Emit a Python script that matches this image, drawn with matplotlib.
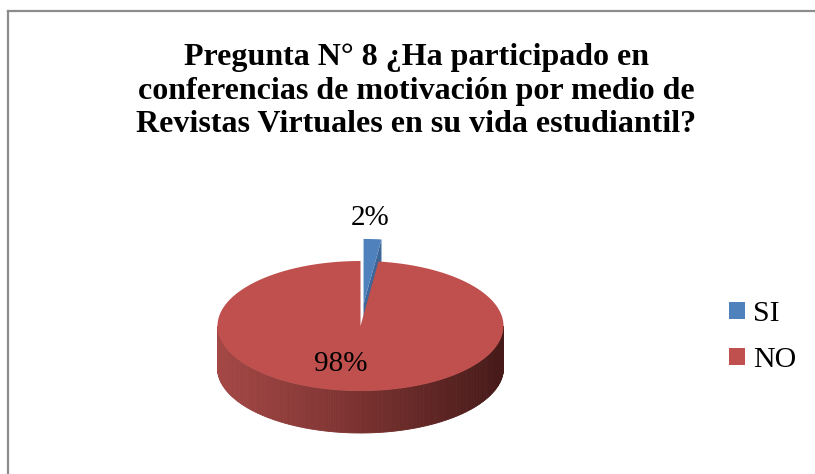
import numpy as np
import matplotlib
matplotlib.use("Agg")
import matplotlib.pyplot as plt
from matplotlib.patches import Polygon, Patch
from matplotlib.lines import Line2D
from matplotlib.colors import LinearSegmentedColormap

# ---- data ----
categories = ["SI", "NO"]
values = [2, 98]
pct_labels = ["2%", "98%"]
title = "Pregunta N° 8 ¿Ha participado en\nconferencias de motivación por medio de\nRevistas Virtuales en su vida estudiantil?"

colors_top = ["#4f81bd", "#c0504d"]
colors_face = ["#3d6699", "#8c3836"]
side_cmap = LinearSegmentedColormap.from_list("side", ["#a44846", "#7a3230", "#461a19"])

plt.rcParams['font.family'] = ['Liberation Serif', 'DejaVu Serif']

W, H = 815, 474
fig = plt.figure(figsize=(W / 100, H / 100), dpi=100)
ax = fig.add_axes([0, 0, 1, 1])
cx, cy, R = 360.5, 326, 143.0   # pixel geometry of the pie
ax.set_xlim(-cx / R, (W - cx) / R)
ax.set_ylim(-(H - cy) / R, cy / R)
ax.axis("off")

s = 65 / R      # tilt (vertical squash)
t = 42 / R      # thickness
explode = [0.34, 0.0]

def pt(theta, dx=0.0, dy=0.0, r=1.0):
    th = np.radians(theta)
    return (dx + r * np.cos(th), dy + s * r * np.sin(th))

total = sum(values)
# slices go clockwise starting at 90 deg
spans = []
start = 90.0
for v in values:
    ext = 360.0 * v / total
    spans.append((start - ext, start))
    start -= ext

offs = []
for (a0, a1), e in zip(spans, explode):
    mid = np.radians((a0 + a1) / 2)
    offs.append((e * np.cos(mid), e * s * np.sin(mid)))

# ---- blue (back, exploded) slice ----
(a0, a1), (dx, dy) = spans[0], offs[0]
arc = np.linspace(a0, a1, 30)
p_out = pt(a0, dx, dy)
face = [(dx, dy), p_out, (p_out[0], p_out[1] - t), (dx, dy - t)]
ax.add_patch(Polygon(face, closed=True, fc=colors_face[0], ec="none", zorder=2))
top = [(dx, dy)] + [pt(a, dx, dy) for a in arc]
ax.add_patch(Polygon(top, closed=True, fc=colors_top[0], ec="none", zorder=3))

# ---- red slice ----
(b0, b1), (dx, dy) = spans[1], offs[1]
thetas = np.linspace(180, 360, 181)
for th1, th2 in zip(thetas[:-1], thetas[1:]):
    p1, p2 = pt(th1, dx, dy), pt(th2, dx, dy)
    xm = (np.cos(np.radians(th1)) + np.cos(np.radians(th2))) / 2
    c = side_cmap((xm + 1) / 2)
    strip = [p1, p2, (p2[0], p2[1] - t), (p1[0], p1[1] - t)]
    ax.add_patch(Polygon(strip, closed=True, fc=c, ec=c, lw=0.6, zorder=4))
arc = np.linspace(b0, b1, 400)
top = [(dx, dy)] + [pt(a, dx, dy) for a in arc]
ax.add_patch(Polygon(top, closed=True, fc=colors_top[1], ec="none", zorder=5))

# ---- labels ----
fig.text(370 / W, 1 - 218 / H, pct_labels[0], ha="center", va="center", fontsize=21, color="black")
fig.text(341 / W, 1 - 364 / H, pct_labels[1], ha="center", va="center", fontsize=21, color="black", zorder=10)

# ---- title ----
fig.text(416.5 / W, 1 - 91 / H, title, ha="center", va="center", fontsize=23,
         fontweight="bold", linespacing=1.22)

# ---- legend ----
handles = [Patch(fc=c, ec="none") for c in colors_top]
fig.legend(handles, categories, loc="center left", bbox_to_anchor=(729 / W, 1 - 337 / H),
           frameon=False, fontsize=21.5, handlelength=0.52, handleheight=0.52,
           handletextpad=0.3, labelspacing=0.68, borderpad=0, borderaxespad=0)

# ---- chart frame ----
fig.add_artist(Line2D([7.5 / W, 7.5 / W], [0, 1 - 11 / H], transform=fig.transFigure, color="#8c8c8c", lw=1.6))
fig.add_artist(Line2D([7.5 / W, 1], [1 - 11 / H, 1 - 11 / H], transform=fig.transFigure, color="#8c8c8c", lw=1.6))

fig.savefig("out.png", dpi=100)
